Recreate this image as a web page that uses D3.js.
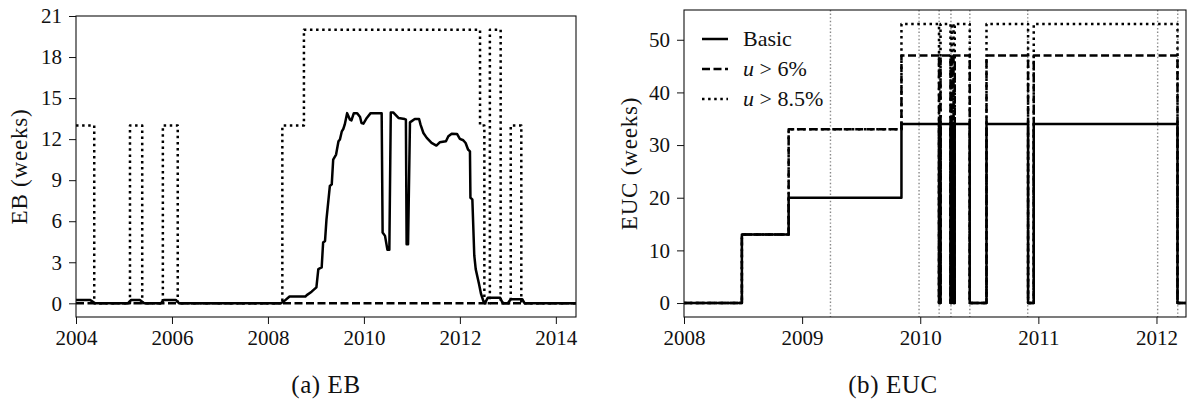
<!DOCTYPE html>
<html lang="en">
<head>
<meta charset="UTF-8">
<title>EB and EUC</title>
<script src="https://d3js.org/d3.v7.min.js"></script>
<style>
    html, body { margin: 0; padding: 0; background: #fff; }
    text { font-family: "Liberation Serif", "DejaVu Serif", serif; fill: #111; }
</style>
</head>
<body>
<svg id="fig" width="1192" height="410"></svg>
<script>
// ---- data ----
// (a) EB, solid series (decimal year, weeks)
var ebYears = [2004, 2004.29, 2004.4, 2005.08, 2005.15, 2005.33, 2005.42, 2005.77, 2005.83, 2006.08, 2006.15,
    2008.27, 2008.35, 2008.45, 2008.78, 2008.81, 2008.91, 2009.01, 2009.05, 2009.12, 2009.15, 2009.19, 2009.22,
    2009.29, 2009.33, 2009.36, 2009.42, 2009.47, 2009.5, 2009.54, 2009.57, 2009.6, 2009.65, 2009.71, 2009.74,
    2009.79, 2009.86, 2009.92, 2009.95, 2009.99, 2010.06, 2010.14, 2010.37, 2010.39, 2010.44, 2010.49, 2010.53,
    2010.56, 2010.61, 2010.72, 2010.85, 2010.875, 2010.89, 2010.92, 2010.96, 2010.99, 2011.06, 2011.15, 2011.18,
    2011.24, 2011.31, 2011.41, 2011.51, 2011.58, 2011.71, 2011.76, 2011.83, 2011.94, 2012.0, 2012.07, 2012.12,
    2012.17, 2012.21, 2012.22, 2012.26, 2012.3, 2012.33, 2012.4, 2012.44, 2012.5, 2012.52, 2012.58, 2012.84,
    2012.88, 2012.92, 2013.0, 2013.06, 2013.3, 2013.35, 2014.42]
var ebBasic = [0.25, 0.25, 0, 0, 0.25, 0.25, 0, 0, 0.25, 0.25, 0,
    0, 0.2, 0.5, 0.5, 0.6, 0.85, 1.17, 2.5, 2.62, 4.44, 4.56, 6.14,
    8.57, 8.69, 10.51, 10.87, 11.84, 11.97, 12.57, 12.74, 13.06, 13.9, 13.42, 13.37,
    13.9, 13.9, 13.62, 13.18, 13.13, 13.55, 13.9, 13.9, 5.17, 4.93, 3.91, 3.91,
    13.95, 13.95, 13.55, 13.47, 13.42, 4.32, 4.32, 13.23, 13.3, 13.47, 13.47, 13.06,
    12.45, 12.09, 11.72, 11.53, 11.77, 11.84, 12.21, 12.4, 12.38, 12.02, 11.92, 11.72,
    11.24, 11.11, 7.72, 7.6, 3.5, 2.5, 1.4, 0.7, 0.05, 0, 0.4, 0.4,
    0.1, 0, 0, 0.3, 0.3, 0, 0]
// step series for (a): change points
var ebStepYears = [2004, 2014.42]
var ebU6 = [0, 0]
var ebU85Years = [2004, 2004.38, 2005.125, 2005.38, 2005.81, 2006.12, 2008.3, 2008.75, 2012.42, 2012.51,
    2012.625, 2012.85, 2013.06, 2013.28, 2014.42]
var ebU85 = [13, 0, 13, 0, 13, 0, 13, 20, 13, 0, 20, 0, 13, 0, 0]

// (b) EUC, step change points
var eucYears = [2008, 2008.49, 2008.886, 2009.841, 2010.159, 2010.172, 2010.256, 2010.266, 2010.282, 2010.292,
    2010.419, 2010.561, 2010.913, 2010.961, 2012.178, 2012.25]
var eucBasic = [0, 13, 20, 34, 0, 34, 0, 34, 0, 34, 0, 34, 0, 34, 0, 0]
var eucU6 = [0, 13, 33, 47, 0, 47, 0, 47, 0, 47, 0, 47, 0, 47, 0, 0]
var eucU85 = [0, 13, 33, 53, 0, 53, 0, 53, 0, 53, 0, 53, 0, 53, 0, 0]
// grey event markers
var eventYears = [2009.24, 2009.99, 2010.16, 2010.26, 2010.42, 2010.91, 2012.01, 2012.18]

var ebXTicks = [2004, 2006, 2008, 2010, 2012, 2014]
var ebYTicks = [0, 3, 6, 9, 12, 15, 18, 21]
var eucXTicks = [2008, 2009, 2010, 2011, 2012]
var eucYTicks = [0, 10, 20, 30, 40, 50]
var legendLabels = [['Basic'], ['u', ' > 6%'], ['u', ' > 8.5%']]

// ---- drawing ----
var svg = d3.select('#fig')
svg.append('rect').attr('width', 1192).attr('height', 410).attr('fill', '#fff')

var styles = [
    {dash: null},
    {dash: '8,3.5'},
    {dash: '2.5,3.6'}
]

function zip(xs, ys) {
    return xs.map(function (x, i) { return [x, ys[i]] })
}

function panel(opt) {
    var x = d3.scaleLinear().domain(opt.xdom).range([opt.left, opt.right])
    var y = d3.scaleLinear().domain(opt.ydom).range([opt.bottom, opt.top])
    var g = svg.append('g')

    g.append('clipPath').attr('id', opt.id + '-clip')
        .append('rect')
        .attr('x', opt.left).attr('y', opt.top)
        .attr('width', opt.right - opt.left).attr('height', opt.bottom - opt.top)

    var plot = g.append('g').attr('clip-path', 'url(#' + opt.id + '-clip)')

    // axes
    var xAxis = d3.axisBottom(x).tickValues(opt.xticks).tickFormat(d3.format('d')).tickSize(7).tickPadding(5)
    var yAxis = d3.axisLeft(y).tickValues(opt.yticks).tickFormat(d3.format('d')).tickSize(7).tickPadding(7)
    var ax = g.append('g').attr('transform', 'translate(0,' + opt.bottom + ')').call(xAxis)
    var ay = g.append('g').attr('transform', 'translate(' + opt.left + ',0)').call(yAxis)
    ;[ax, ay].forEach(function (a) {
        a.select('.domain').remove()
        a.selectAll('line').attr('stroke', '#111').attr('stroke-width', 1)
        a.selectAll('text').attr('font-size', 21).attr('fill', '#111')
            .style('font-family', '"Liberation Serif", "DejaVu Serif", serif')
    })
    ax.selectAll('text').attr('dy', '0.78em')

    g.append('rect')
        .attr('x', opt.left).attr('y', opt.top)
        .attr('width', opt.right - opt.left).attr('height', opt.bottom - opt.top)
        .attr('fill', 'none').attr('stroke', '#111').attr('stroke-width', 1.1)

    g.append('text')
        .attr('transform', 'translate(' + opt.labelX + ',' + (opt.top + opt.bottom) / 2 + ') rotate(-90)')
        .attr('text-anchor', 'middle')
        .attr('font-size', 23)
        .attr('letter-spacing', 0.8)
        .text(opt.ylabel)

    g.append('text')
        .attr('x', opt.capX).attr('y', 393)
        .attr('text-anchor', 'middle')
        .attr('font-size', 25)
        .attr('letter-spacing', 0.6)
        .text(opt.caption)

    return {x: x, y: y, plot: plot}
}

function drawSeries(p, pts, st, curve) {
    var line = d3.line()
        .x(function (d) { return p.x(d[0]) })
        .y(function (d) { return p.y(d[1]) })
        .curve(curve)
    p.plot.append('path')
        .datum(pts)
        .attr('d', line)
        .attr('fill', 'none')
        .attr('stroke', '#000')
        .attr('stroke-width', 2.5)
        .attr('stroke-linejoin', 'round')
        .attr('stroke-dasharray', st.dash)
}

// (a) EB
var pa = panel({
    id: 'eb', left: 76, right: 576, top: 16, bottom: 317,
    xdom: [2004, 2014.42], ydom: [-1, 21],
    xticks: ebXTicks, yticks: ebYTicks,
    ylabel: 'EB (weeks)', labelX: 27, caption: '(a) EB', capX: 326
})
drawSeries(pa, zip(ebYears, ebBasic), styles[0], d3.curveLinear)
drawSeries(pa, zip(ebStepYears, ebU6), styles[1], d3.curveStepAfter)
drawSeries(pa, zip(ebU85Years, ebU85), styles[2], d3.curveStepAfter)

// (b) EUC
var pb = panel({
    id: 'euc', left: 684, right: 1186, top: 10, bottom: 317,
    xdom: [2008, 2012.25], ydom: [-2.65, 55.65],
    xticks: eucXTicks, yticks: eucYTicks,
    ylabel: 'EUC (weeks)', labelX: 637, caption: '(b) EUC', capX: 893
})
pb.plot.selectAll('line.event')
    .data(eventYears)
    .enter().append('line')
    .attr('class', 'event')
    .attr('x1', function (d) { return pb.x(d) })
    .attr('x2', function (d) { return pb.x(d) })
    .attr('y1', 10).attr('y2', 317)
    .attr('stroke', '#888').attr('stroke-width', 1.4)
    .attr('stroke-dasharray', '1.4,2.2')
drawSeries(pb, zip(eucYears, eucBasic), styles[0], d3.curveStepAfter)
drawSeries(pb, zip(eucYears, eucU6), styles[1], d3.curveStepAfter)
drawSeries(pb, zip(eucYears, eucU85), styles[2], d3.curveStepAfter)

// legend
var leg = svg.append('g').attr('transform', 'translate(702,39)')
legendLabels.forEach(function (lab, i) {
    var row = leg.append('g').attr('transform', 'translate(0,' + i * 30 + ')')
    row.append('line')
        .attr('x1', 0).attr('x2', 26).attr('y1', 0).attr('y2', 0)
        .attr('stroke', '#000').attr('stroke-width', 2.5)
        .attr('stroke-dasharray', styles[i].dash)
    var t = row.append('text').attr('x', 41).attr('dy', '0.33em').attr('font-size', 22)
    if (lab.length === 1) {
        t.text(lab[0])
    } else {
        t.append('tspan').attr('font-style', 'italic').text(lab[0])
        t.append('tspan').text(lab[1])
    }
})
</script>
</body>
</html>
